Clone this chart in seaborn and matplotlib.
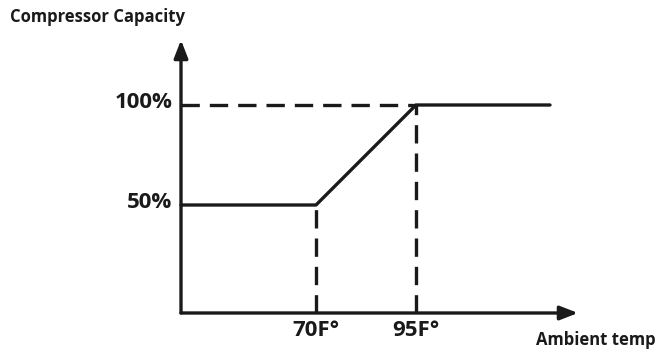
import numpy as np
import pandas as pd
import seaborn as sns
import matplotlib.pyplot as plt

#------------------------------------------------------------------------------
# Data
#------------------------------------------------------------------------------

temps = [36.25, 70, 95, 128.5]          # ambient temperature (F)
capacity = [50, 50, 100, 100]           # compressor capacity (%)
x_ticks = [70, 95]
x_tick_labels = ['70F°', '95F°']
y_ticks = [50, 100]
y_tick_labels = ['50%', '100%']

#------------------------------------------------------------------------------
# Figure setup
#------------------------------------------------------------------------------

sns.set_theme(style='white')
plt.rcParams['font.family'] = ['Open Sans', 'DejaVu Sans']

fig = plt.figure(figsize=(6.57, 3.5), dpi=100)
ax = fig.add_axes([0, 0, 1, 1])
ax.set_xlim(-9, 155.25)
ax.set_ylim(-22.5, 152.5)
ax.axis('off')

x0, y0 = temps[0], -4
ink = '#1a1a1a'

# main curve
df = pd.DataFrame({'temp': temps, 'cap': capacity})
sns.lineplot(data=df, x='temp', y='cap', ax=ax, color=ink, lw=2.4,
             sort=False, legend=False)

# dashed guides
dash = dict(color=ink, lw=2.4, linestyle=(0, (5.5, 3)))
ax.plot([x0, x_ticks[1]], [y_ticks[1], y_ticks[1]], **dash)
for t, c in zip(x_ticks, [capacity[1], capacity[2]]):
    ax.plot([t, t], [y0, c], **dash)

# axes with arrows
arrow = dict(arrowstyle='-|>,head_length=0.9,head_width=0.35', color=ink, lw=2.4,
             shrinkA=0, shrinkB=0)
ax.annotate('', xy=(135.5, y0), xytext=(x0, y0), arrowprops=arrow)
ax.annotate('', xy=(x0, 132.5), xytext=(x0, y0), arrowprops=arrow)

# tick labels
for t, lab in zip(x_ticks, x_tick_labels):
    ax.text(t, y0 - 3.5, lab, ha='center', va='top', fontsize=16,
            fontweight='bold', color=ink)
for c, lab in zip(y_ticks, y_tick_labels):
    ax.text(x0 - 2.2, c + 1, lab, ha='right', va='center', fontsize=16,
            fontweight='bold', color=ink)

# axis titles
ax.text(-6.5, 148.5, 'Compressor Capacity', ha='left', va='top', fontsize=12,
        fontweight='bold', color=ink)
ax.text(155, -21.8, 'Ambient temp', ha='right', va='bottom', fontsize=12,
        fontweight='bold', color=ink)

fig.savefig('out.png', dpi=100)
